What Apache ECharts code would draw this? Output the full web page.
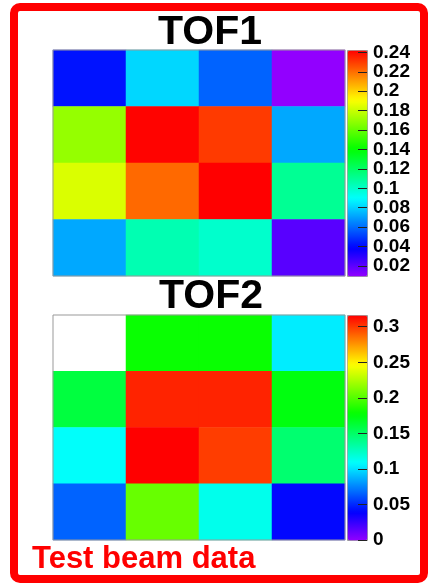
<!DOCTYPE html>
<html>
<head>
<meta charset="utf-8">
<script src="https://cdn.jsdelivr.net/npm/echarts@6.0.0/dist/echarts.min.js"></script>
<style>
  html, body { margin: 0; padding: 0; background: #fff; }
  #main { width: 435px; height: 587px; }
</style>
</head>
<body>
<div id="main"></div>
<script>
// bins along x and y (y listed bottom to top)
const columns = ['1', '2', '3', '4'];
const rows = ['1', '2', '3', '4'];

// bin contents, top row first (as seen on the picture)
const tof1Values = [
  [0.0425, 0.0818, 0.0586, 0.0097],
  [0.1703, 0.2418, 0.2308, 0.0725],
  [0.1842, 0.2215, 0.2424, 0.1110],
  [0.0725, 0.1050, 0.1000, 0.0213]
];
const tof2Values = [
  [0, 0.180, 0.180, 0.104],
  [0.161, 0.307, 0.307, 0.174],
  [0.110, 0.3165, 0.300, 0.148],
  [0.0665, 0.206, 0.114, 0.041]
];

// z ranges and colour bar tick labels
const tof1Range = [0.0097, 0.2424];
const tof2Range = [0, 0.3165];
const tof1Ticks = [0.02, 0.04, 0.06, 0.08, 0.1, 0.12, 0.14, 0.16, 0.18, 0.2, 0.22, 0.24];
const tof2Ticks = [0, 0.05, 0.1, 0.15, 0.2, 0.25, 0.3];

// ROOT "pretty" palette: 50 hues from violet to red
const palette = [];
for (let i = 0; i < 50; i++) {
  palette.push('hsl(' + (280 - (i + 1) * 5.6).toFixed(1) + ', 100%, 50%)');
}

function toCells(values) {
  const out = [];
  values.forEach(function (row, r) {
    row.forEach(function (v, c) {
      if (v > 0) out.push([c, rows.length - 1 - r, v]); // empty bins are not drawn
    });
  });
  return out;
}

const font = '"Liberation Sans", Arial, sans-serif';
const plots = [
  { top: 50, height: 226 },
  { top: 315, height: 225 }
];
const plotLeft = 53, plotWidth = 292, barLeft = 347, barWidth = 20;

var chart = echarts.init(document.getElementById('main'));

function catAxis(i, data) {
  return { type: 'category', gridIndex: i, data: data, show: false };
}
function barAxis(i, range, ticks) {
  return {
    type: 'value', gridIndex: i, position: 'right', z: 10,
    min: range[0], max: range[1],
    axisLine: { show: false, onZero: false },
    splitLine: { show: false },
    axisTick: { show: true, inside: true, length: 9, customValues: ticks, lineStyle: { color: '#222', width: 1 } },
    axisLabel: { customValues: ticks, margin: 6, fontSize: 19, fontWeight: 'bold', color: '#000', fontFamily: font }
  };
}

var option = {
  animation: false,
  grid: [
    { left: plotLeft, top: plots[0].top, width: plotWidth, height: plots[0].height, show: true, z: 5, borderColor: '#999', borderWidth: 1 },
    { left: plotLeft, top: plots[1].top, width: plotWidth, height: plots[1].height, show: true, z: 5, borderColor: '#999', borderWidth: 1 },
    { left: barLeft, top: plots[0].top, width: barWidth, height: plots[0].height },
    { left: barLeft, top: plots[1].top, width: barWidth, height: plots[1].height }
  ],
  xAxis: [
    catAxis(0, columns), catAxis(1, columns),
    { type: 'value', gridIndex: 2, show: false },
    { type: 'value', gridIndex: 3, show: false }
  ],
  yAxis: [
    catAxis(0, rows), catAxis(1, rows),
    barAxis(2, tof1Range, tof1Ticks),
    barAxis(3, tof2Range, tof2Ticks)
  ],
  visualMap: [
    {
      type: 'continuous', seriesIndex: 0, min: tof1Range[0], max: tof1Range[1],
      calculable: false, hoverLink: false, left: barLeft, top: plots[0].top, z: 4,
      itemWidth: barWidth, itemHeight: plots[0].height, padding: 0,
      borderColor: '#999', borderWidth: 1, inRange: { color: palette }
    },
    {
      type: 'continuous', seriesIndex: 1, min: tof2Range[0], max: tof2Range[1],
      calculable: false, hoverLink: false, left: barLeft, top: plots[1].top, z: 4,
      itemWidth: barWidth, itemHeight: plots[1].height, padding: 0,
      borderColor: '#999', borderWidth: 1, inRange: { color: palette }
    }
  ],
  series: [
    { name: 'TOF1', type: 'heatmap', xAxisIndex: 0, yAxisIndex: 0, data: toCells(tof1Values), emphasis: { disabled: true } },
    { name: 'TOF2', type: 'heatmap', xAxisIndex: 1, yAxisIndex: 1, data: toCells(tof2Values), emphasis: { disabled: true } }
  ],
  graphic: [
    { type: 'rect', shape: { x: 14, y: 7, width: 410, height: 572, r: 6 }, style: { fill: 'none', stroke: '#ff0000', lineWidth: 8 } },
    { type: 'text', x: 210, y: 33, style: { text: 'TOF1', font: 'bold 41px ' + font, fill: '#000', align: 'center', verticalAlign: 'middle' } },
    { type: 'text', x: 211, y: 297, style: { text: 'TOF2', font: 'bold 41px ' + font, fill: '#000', align: 'center', verticalAlign: 'middle' } },
    { type: 'text', x: 32, y: 559, style: { text: 'Test beam data', font: 'bold 31px ' + font, fill: '#ff0000', align: 'left', verticalAlign: 'middle' } }
  ]
};

chart.setOption(option);
</script>
</body>
</html>
